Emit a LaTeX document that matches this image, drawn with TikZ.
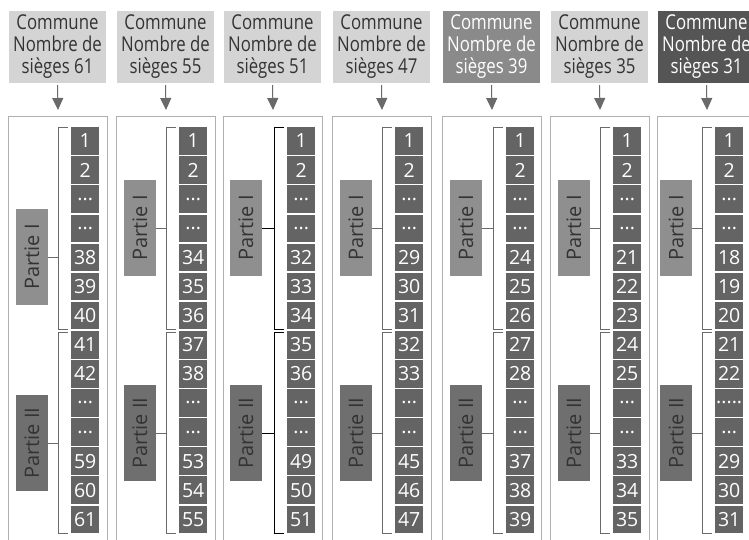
\documentclass[tikz,border=0pt]{standalone}
\usepackage{fontspec}
\setmainfont{Open Sans}
\newfontfamily\hfont{Open Sans}[FakeStretch=0.82]
\usetikzlibrary{arrows.meta}
\definecolor{hdrl}{HTML}{D4D4D4}
\definecolor{hdrm}{HTML}{8A8A8A}
\definecolor{hdrd}{HTML}{555555}
\definecolor{cellg}{HTML}{646464}
\definecolor{pone}{HTML}{8F8F8F}
\definecolor{ptwo}{HTML}{6F6F6F}
\definecolor{txt}{HTML}{333333}
\definecolor{framec}{HTML}{B0B0B0}
\definecolor{brk}{HTML}{6A6A6A}
\newcommand\myell{...}
\newcommand\myellb{.....}
\begin{document}
\begin{tikzpicture}[x=1pt,y=-1pt,
 hdr/.style={rectangle, fill=hdrl, text=txt, minimum width=97pt, minimum height=72pt, inner sep=0pt, align=center, font=\hfont\fontsize{20.5}{22}\selectfont},
 colbox/.style={draw=framec, line width=1pt, minimum width=99pt, minimum height=440pt, anchor=north west, inner sep=0pt},
 cellbox/.style={fill=cellg, text=white, minimum width=28pt, minimum height=27.6pt, inner sep=0pt, anchor=north west, font=\fontsize{19.5}{19.5}\selectfont},
 partbox/.style={rotate=90, minimum width=96pt, minimum height=32pt, inner sep=0pt, text=txt, font=\fontsize{20}{20}\selectfont},
 link/.style={line width=1pt},
 arr/.style={draw=brk, line width=1pt, -{Triangle[width=11pt,length=12pt]}}
]
\useasboundingbox (0,0) rectangle (749,539);
\clip (0,0) rectangle (749,539);
\foreach \i/\L/\n/\hf/\hx/\po/\co/\ta/\tb/\bc/\labs in {
 1/8/61/hdrl/txt/24/63/257/443/brk/{1,2,\myell,\myell,38,39,40,41,42,\myell,\myell,59,60,61},
 2/116/55/hdrl/txt/24/63/228/433/brk/{1,2,\myell,\myell,34,35,36,37,38,\myell,\myell,53,54,55},
 3/223/51/hdrl/txt/23/64/228/433/black/{1,2,\myell,\myell,32,33,34,35,36,\myell,\myell,49,50,51},
 4/332/47/hdrl/txt/24/63/228/433/brk/{1,2,\myell,\myell,29,30,31,32,33,\myell,\myell,45,46,47},
 5/442/39/hdrm/white/24/64/228/433/brk/{1,2,\myell,\myell,24,25,26,27,28,\myell,\myell,37,38,39},
 6/550/35/hdrl/txt/24/63/228/433/brk/{1,2,\myell,\myell,21,22,23,24,25,\myell,\myell,33,34,35},
 7/657/31/hdrd/white/19/58/228/433/brk/{1,2,\myell,\myell,18,19,20,21,22,\myellb,\myell,29,30,31}}
{
 \node[hdr, fill=\hf, text=\hx] (h\i) at (\L+49.5,47) {Commune\\Nombre de\\sièges \n};
 \node[colbox] (col\i) at (\L,116) {};
 \draw[arr] ([yshift=-2pt]h\i.south) -- ([yshift=6pt]col\i.north);
 \foreach \t [count=\k] in \labs {
   \node[cellbox] (c\i-\k) at (\L+\co,127+29.1*\k-29.1) {\t};
 }
 \coordinate (bI\i) at ([xshift=-13pt]c\i-1.north west);
 \node[partbox, fill=pone] (pa\i) at (\L+\po,\ta) {Partie I};
 \node[partbox, fill=ptwo] (pb\i) at (\L+\po,\tb) {Partie II};
 \draw[link, draw=\bc] ([xshift=-3pt]c\i-1.north west) -- ([xshift=-13pt]c\i-1.north west)
   -- ([xshift=-13pt]c\i-7.south west) -- ([xshift=-3pt]c\i-7.south west);
 \draw[link, draw=\bc] ([xshift=-3pt,yshift=-1.5pt]c\i-8.north west) -- ([xshift=-13pt,yshift=-1.5pt]c\i-8.north west)
   -- ([xshift=-13pt]c\i-14.south west) -- ([xshift=-3pt]c\i-14.south west);
 \draw[link, draw=\bc] (pa\i.south) -- (pa\i.south -| bI\i);
 \draw[link, draw=\bc] (pb\i.south) -- (pb\i.south -| bI\i);
}
\end{tikzpicture}
\end{document}
